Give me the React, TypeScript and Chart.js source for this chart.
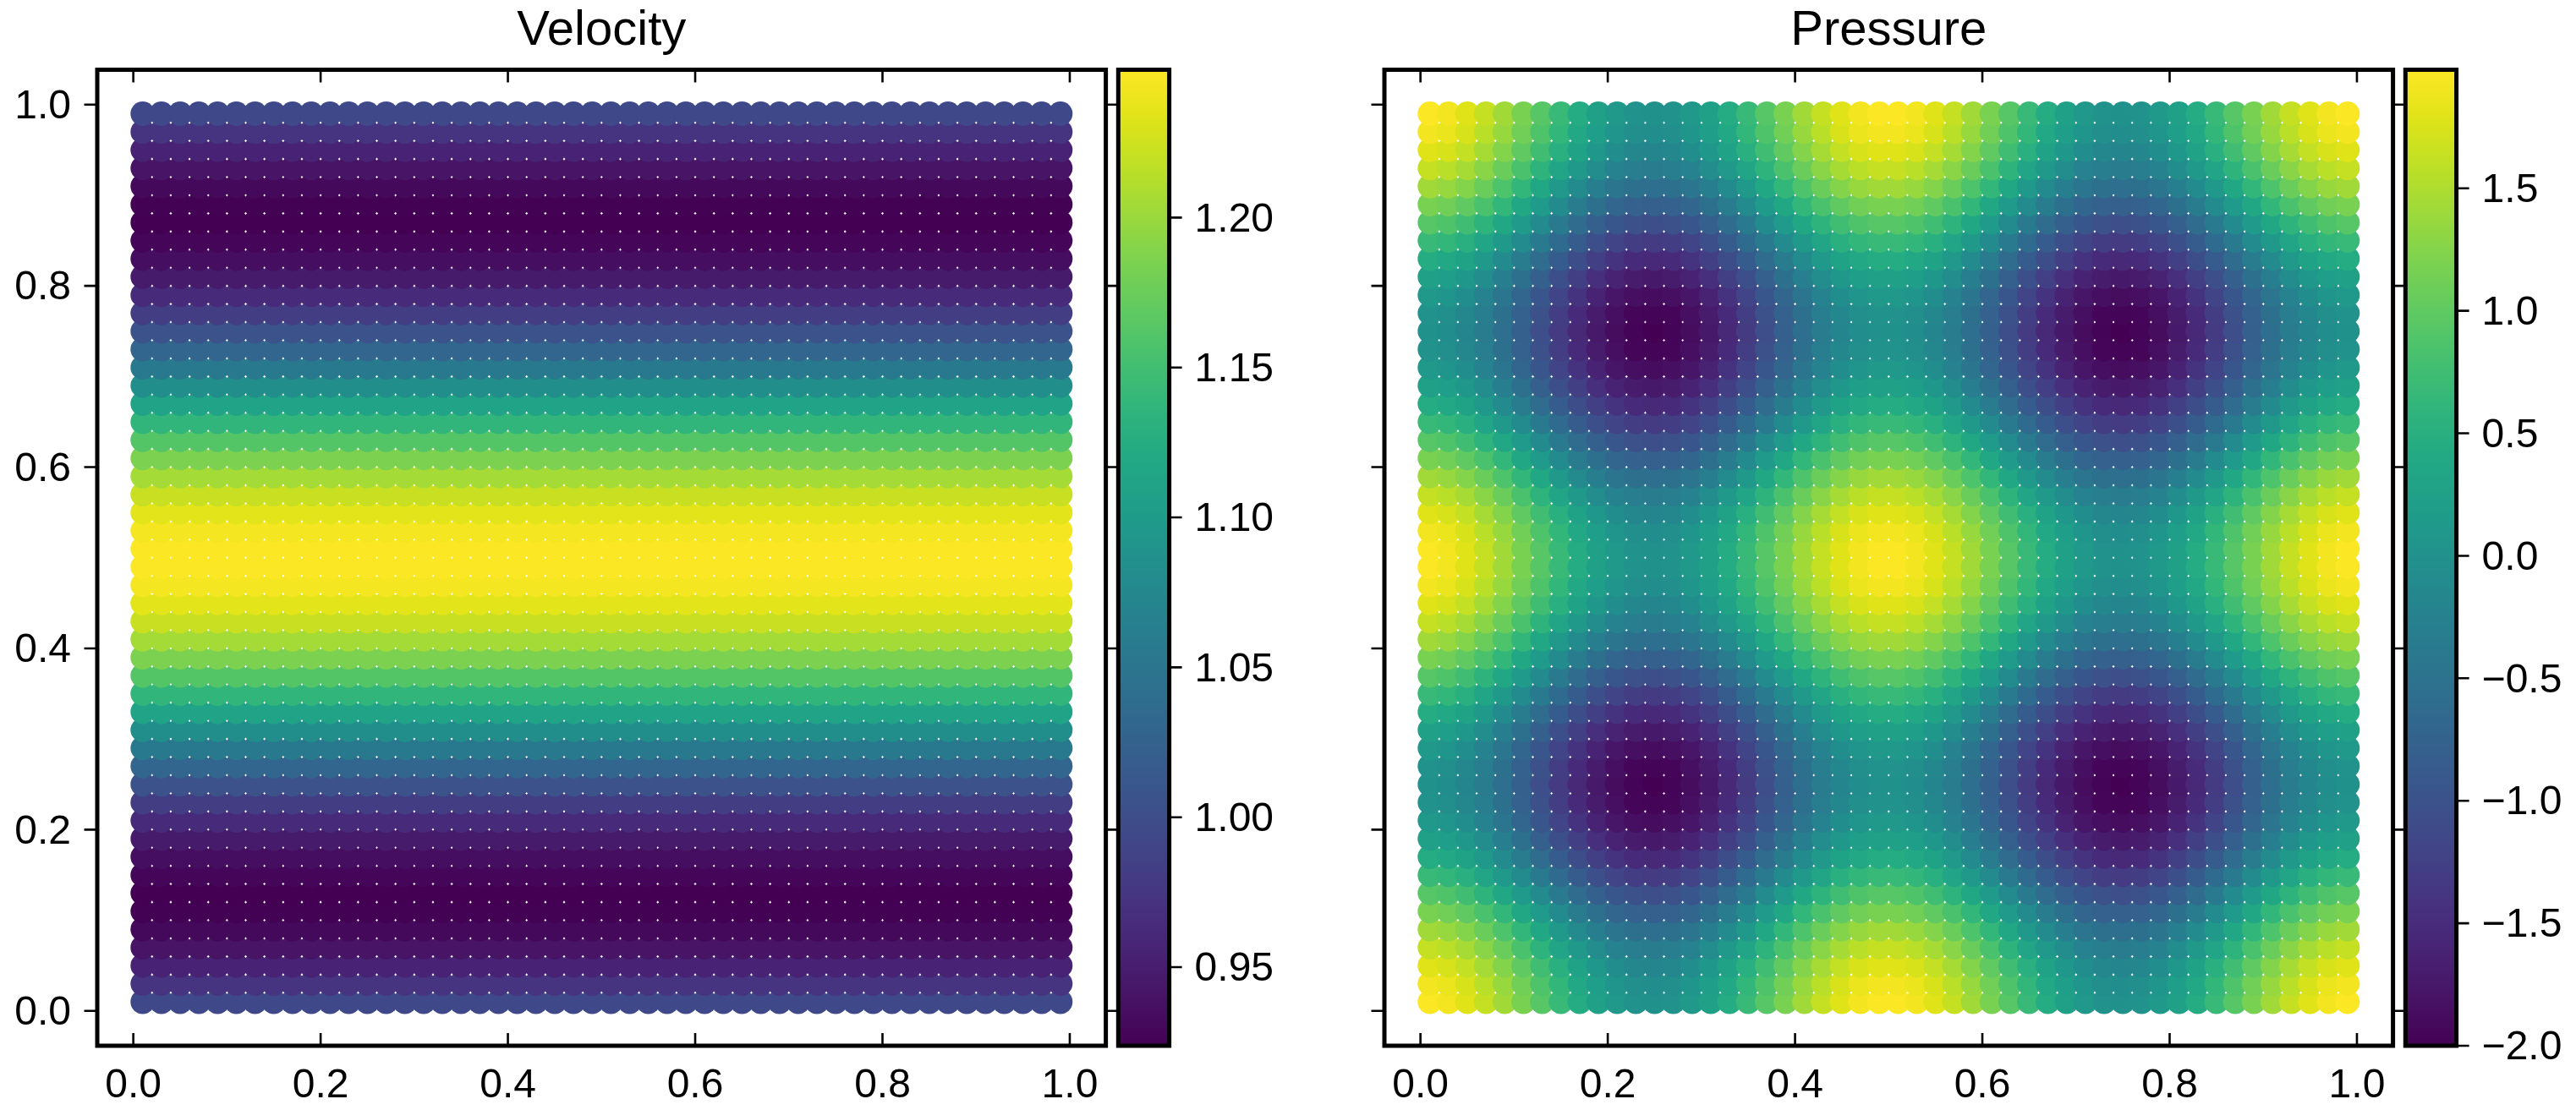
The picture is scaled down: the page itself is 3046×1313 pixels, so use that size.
import { useEffect, useRef } from "react"
import { Chart, registerables } from "chart.js"

Chart.register(...registerables)

const FONT = "'Liberation Sans', Arial, sans-serif"

const gridCoords = [
  0.01, 0.03, 0.05, 0.07, 0.09, 0.11, 0.13, 0.15, 0.17, 0.19, 0.21, 0.23, 0.25, 0.27, 0.29, 0.31, 0.33, 0.35, 0.37, 0.39, 0.41, 0.43, 0.45, 0.47, 0.49,
  0.51, 0.53, 0.55, 0.57, 0.59, 0.61, 0.63, 0.65, 0.67, 0.69, 0.71, 0.73, 0.75, 0.77, 0.79, 0.81, 0.83, 0.85, 0.87, 0.89, 0.91, 0.93, 0.95, 0.97, 0.99,
]
const axisTicks = [0, 0.2, 0.4, 0.6, 0.8, 1]

// velocity only changes with y, one value per row from bottom to top
const velocityByRow = [
  0.9938, 0.9726, 0.9549, 0.9408, 0.9307, 0.9251, 0.9239, 0.9274, 0.9352, 0.9473, 0.9633, 0.9828, 1.0052, 1.0298, 1.056, 1.0831, 1.1103, 1.1368, 1.1619, 1.185, 1.2052, 1.2221, 1.2352, 1.2442, 1.2487,
  1.2487, 1.2442, 1.2352, 1.2221, 1.2052, 1.185, 1.1619, 1.1368, 1.1103, 1.0831, 1.056, 1.0298, 1.0052, 0.9828, 0.9633, 0.9473, 0.9352, 0.9274, 0.9239, 0.9251, 0.9307, 0.9408, 0.9549, 0.9726, 0.9938,
]
const velocityTicks = [0.95, 1.0, 1.05, 1.1, 1.15, 1.2]
const velocityRange = [0.9238, 1.2493]

// pressure rows, read left to right. The picture repeats the same 13 rows, see pressureRowOrder
const pressureA = [1.98, 1.92, 1.8, 1.63, 1.42, 1.18, 0.93, 0.68, 0.45, 0.26, 0.11, 0.02, -0.01, 0.02, 0.11, 0.26, 0.45, 0.68, 0.93, 1.18, 1.42, 1.63, 1.8, 1.92, 1.98, 1.98, 1.92, 1.8, 1.63, 1.42, 1.18, 0.93, 0.68, 0.45, 0.26, 0.11, 0.02, -0.01, 0.02, 0.11, 0.26, 0.45, 0.68, 0.93, 1.18, 1.42, 1.63, 1.8, 1.92, 1.98]
const pressureB = [1.92, 1.86, 1.74, 1.57, 1.36, 1.12, 0.87, 0.62, 0.39, 0.2, 0.05, -0.04, -0.07, -0.04, 0.05, 0.2, 0.39, 0.62, 0.87, 1.12, 1.36, 1.57, 1.74, 1.86, 1.92, 1.92, 1.86, 1.74, 1.57, 1.36, 1.12, 0.87, 0.62, 0.39, 0.2, 0.05, -0.04, -0.07, -0.04, 0.05, 0.2, 0.39, 0.62, 0.87, 1.12, 1.36, 1.57, 1.74, 1.86, 1.92]
const pressureC = [1.8, 1.74, 1.62, 1.45, 1.24, 1.0, 0.75, 0.5, 0.27, 0.08, -0.07, -0.16, -0.19, -0.16, -0.07, 0.08, 0.27, 0.5, 0.75, 1.0, 1.24, 1.45, 1.62, 1.74, 1.8, 1.8, 1.74, 1.62, 1.45, 1.24, 1.0, 0.75, 0.5, 0.27, 0.08, -0.07, -0.16, -0.19, -0.16, -0.07, 0.08, 0.27, 0.5, 0.75, 1.0, 1.24, 1.45, 1.62, 1.74, 1.8]
const pressureD = [1.63, 1.57, 1.45, 1.28, 1.07, 0.83, 0.58, 0.33, 0.1, -0.09, -0.24, -0.33, -0.36, -0.33, -0.24, -0.09, 0.1, 0.33, 0.58, 0.83, 1.07, 1.28, 1.45, 1.57, 1.63, 1.63, 1.57, 1.45, 1.28, 1.07, 0.83, 0.58, 0.33, 0.1, -0.09, -0.24, -0.33, -0.36, -0.33, -0.24, -0.09, 0.1, 0.33, 0.58, 0.83, 1.07, 1.28, 1.45, 1.57, 1.63]
const pressureE = [1.42, 1.36, 1.24, 1.07, 0.86, 0.62, 0.37, 0.12, -0.11, -0.3, -0.45, -0.54, -0.57, -0.54, -0.45, -0.3, -0.11, 0.12, 0.37, 0.62, 0.86, 1.07, 1.24, 1.36, 1.42, 1.42, 1.36, 1.24, 1.07, 0.86, 0.62, 0.37, 0.12, -0.11, -0.3, -0.45, -0.54, -0.57, -0.54, -0.45, -0.3, -0.11, 0.12, 0.37, 0.62, 0.86, 1.07, 1.24, 1.36, 1.42]
const pressureF = [1.18, 1.12, 1.0, 0.83, 0.62, 0.38, 0.13, -0.12, -0.35, -0.54, -0.69, -0.78, -0.81, -0.78, -0.69, -0.54, -0.35, -0.12, 0.13, 0.38, 0.62, 0.83, 1.0, 1.12, 1.18, 1.18, 1.12, 1.0, 0.83, 0.62, 0.38, 0.13, -0.12, -0.35, -0.54, -0.69, -0.78, -0.81, -0.78, -0.69, -0.54, -0.35, -0.12, 0.13, 0.38, 0.62, 0.83, 1.0, 1.12, 1.18]
const pressureG = [0.93, 0.87, 0.75, 0.58, 0.37, 0.13, -0.12, -0.37, -0.6, -0.79, -0.94, -1.03, -1.06, -1.03, -0.94, -0.79, -0.6, -0.37, -0.12, 0.13, 0.37, 0.58, 0.75, 0.87, 0.93, 0.93, 0.87, 0.75, 0.58, 0.37, 0.13, -0.12, -0.37, -0.6, -0.79, -0.94, -1.03, -1.06, -1.03, -0.94, -0.79, -0.6, -0.37, -0.12, 0.13, 0.37, 0.58, 0.75, 0.87, 0.93]
const pressureH = [0.68, 0.62, 0.5, 0.33, 0.12, -0.12, -0.37, -0.62, -0.85, -1.04, -1.19, -1.28, -1.31, -1.28, -1.19, -1.04, -0.85, -0.62, -0.37, -0.12, 0.12, 0.33, 0.5, 0.62, 0.68, 0.68, 0.62, 0.5, 0.33, 0.12, -0.12, -0.37, -0.62, -0.85, -1.04, -1.19, -1.28, -1.31, -1.28, -1.19, -1.04, -0.85, -0.62, -0.37, -0.12, 0.12, 0.33, 0.5, 0.62, 0.68]
const pressureI = [0.45, 0.39, 0.27, 0.1, -0.11, -0.35, -0.6, -0.85, -1.08, -1.27, -1.42, -1.51, -1.54, -1.51, -1.42, -1.27, -1.08, -0.85, -0.6, -0.35, -0.11, 0.1, 0.27, 0.39, 0.45, 0.45, 0.39, 0.27, 0.1, -0.11, -0.35, -0.6, -0.85, -1.08, -1.27, -1.42, -1.51, -1.54, -1.51, -1.42, -1.27, -1.08, -0.85, -0.6, -0.35, -0.11, 0.1, 0.27, 0.39, 0.45]
const pressureJ = [0.26, 0.2, 0.08, -0.09, -0.3, -0.54, -0.79, -1.04, -1.27, -1.46, -1.61, -1.7, -1.73, -1.7, -1.61, -1.46, -1.27, -1.04, -0.79, -0.54, -0.3, -0.09, 0.08, 0.2, 0.26, 0.26, 0.2, 0.08, -0.09, -0.3, -0.54, -0.79, -1.04, -1.27, -1.46, -1.61, -1.7, -1.73, -1.7, -1.61, -1.46, -1.27, -1.04, -0.79, -0.54, -0.3, -0.09, 0.08, 0.2, 0.26]
const pressureK = [0.11, 0.05, -0.07, -0.24, -0.45, -0.69, -0.94, -1.19, -1.42, -1.61, -1.76, -1.85, -1.88, -1.85, -1.76, -1.61, -1.42, -1.19, -0.94, -0.69, -0.45, -0.24, -0.07, 0.05, 0.11, 0.11, 0.05, -0.07, -0.24, -0.45, -0.69, -0.94, -1.19, -1.42, -1.61, -1.76, -1.85, -1.88, -1.85, -1.76, -1.61, -1.42, -1.19, -0.94, -0.69, -0.45, -0.24, -0.07, 0.05, 0.11]
const pressureL = [0.02, -0.04, -0.16, -0.33, -0.54, -0.78, -1.03, -1.28, -1.51, -1.7, -1.85, -1.94, -1.97, -1.94, -1.85, -1.7, -1.51, -1.28, -1.03, -0.78, -0.54, -0.33, -0.16, -0.04, 0.02, 0.02, -0.04, -0.16, -0.33, -0.54, -0.78, -1.03, -1.28, -1.51, -1.7, -1.85, -1.94, -1.97, -1.94, -1.85, -1.7, -1.51, -1.28, -1.03, -0.78, -0.54, -0.33, -0.16, -0.04, 0.02]
const pressureM = [-0.01, -0.07, -0.19, -0.36, -0.57, -0.81, -1.06, -1.31, -1.54, -1.73, -1.88, -1.97, -2.0, -1.97, -1.88, -1.73, -1.54, -1.31, -1.06, -0.81, -0.57, -0.36, -0.19, -0.07, -0.01, -0.01, -0.07, -0.19, -0.36, -0.57, -0.81, -1.06, -1.31, -1.54, -1.73, -1.88, -1.97, -2.0, -1.97, -1.88, -1.73, -1.54, -1.31, -1.06, -0.81, -0.57, -0.36, -0.19, -0.07, -0.01]

// bottom row first
const pressureRowOrder = [
  pressureA, pressureB, pressureC, pressureD, pressureE, pressureF, pressureG, pressureH, pressureI, pressureJ, pressureK, pressureL, pressureM,
  pressureL, pressureK, pressureJ, pressureI, pressureH, pressureG, pressureF, pressureE, pressureD, pressureC, pressureB, pressureA,
  pressureA, pressureB, pressureC, pressureD, pressureE, pressureF, pressureG, pressureH, pressureI, pressureJ, pressureK, pressureL, pressureM,
  pressureL, pressureK, pressureJ, pressureI, pressureH, pressureG, pressureF, pressureE, pressureD, pressureC, pressureB, pressureA,
]
const pressureTicks = [-2, -1.5, -1, -0.5, 0, 0.5, 1, 1.5]
const pressureRange = [-2, 1.984]

const viridisStops = [
  "#440154", "#471365", "#482475", "#463480", "#414487", "#3b528b", "#355f8d", "#2f6c8e", "#2a788e", "#25848e", "#21918c",
  "#1f9e89", "#22a884", "#2fb47c", "#44bf70", "#5ec962", "#7ad151", "#9bd93c", "#bddf26", "#dfe318", "#fde725",
]

function viridis(t: number) {
  const pos = Math.min(Math.max(t, 0), 1) * (viridisStops.length - 1)
  const i = Math.min(Math.floor(pos), viridisStops.length - 2)
  const f = pos - i
  const a = viridisStops[i]
  const b = viridisStops[i + 1]
  const mix = (start: number) => {
    const from = parseInt(a.slice(start, start + 2), 16)
    const to = parseInt(b.slice(start, start + 2), 16)
    return Math.round(from + (to - from) * f)
  }
  return `rgb(${mix(1)},${mix(3)},${mix(5)})`
}

const formatTick = (value: number, digits: number) => value.toFixed(digits).replace("-", "\u2212")

// y labels sit a little under their tick in the original
const nudgeYLabels = {
  id: "nudgeYLabels",
  beforeDraw(chart: any) {
    chart.scales.y.getLabelItems().forEach((item: any) => {
      if (item.nudged) return
      item.options.translation[1] += 3
      item.nudged = true
    })
  },
}

// spines and ticks: matplotlib style, x ticks inward, y ticks outward
const axesFrame = {
  id: "axesFrame",
  afterDraw(chart: any) {
    const { ctx, chartArea: area, scales } = chart
    ctx.save()
    ctx.strokeStyle = "#000"
    ctx.lineWidth = 2.6
    ctx.beginPath()
    scales.x.ticks.forEach((tick: any) => {
      const px = scales.x.getPixelForValue(tick.value)
      ctx.moveTo(px, area.top)
      ctx.lineTo(px, area.top + 15)
      ctx.moveTo(px, area.bottom)
      ctx.lineTo(px, area.bottom - 15)
    })
    scales.y.ticks.forEach((tick: any) => {
      const py = scales.y.getPixelForValue(tick.value)
      ctx.moveTo(area.left, py)
      ctx.lineTo(area.left - 15.5, py)
      ctx.moveTo(area.right, py)
      ctx.lineTo(area.right + 15.5, py)
    })
    ctx.stroke()
    ctx.lineWidth = 5
    ctx.strokeRect(area.left, area.top, area.right - area.left, area.bottom - area.top)
    ctx.restore()
  },
}

const colorBarFrame = {
  id: "colorBarFrame",
  afterDraw(chart: any) {
    const { ctx, chartArea: area, scales } = chart
    const gradient = ctx.createLinearGradient(0, area.bottom, 0, area.top)
    viridisStops.forEach((color, i) => gradient.addColorStop(i / (viridisStops.length - 1), color))
    ctx.save()
    ctx.fillStyle = gradient
    ctx.fillRect(area.left, area.top, area.right - area.left, area.bottom - area.top)
    ctx.strokeStyle = "#000"
    ctx.lineWidth = 2.6
    ctx.beginPath()
    scales.y.ticks.forEach((tick: any) => {
      const py = scales.y.getPixelForValue(tick.value)
      ctx.moveTo(area.right, py)
      ctx.lineTo(area.right + 15, py)
    })
    ctx.stroke()
    ctx.lineWidth = 5
    ctx.strokeRect(area.left, area.top, area.right - area.left, area.bottom - area.top)
    ctx.restore()
  },
}

interface ScatterPanelProps {
  title: string
  rows: number[][]
  range: number[]
  left: number
  axisLeft: number
  yLabels: boolean
}

function ScatterPanel({ title, rows, range, left, axisLeft, yLabels }: ScatterPanelProps) {
  const canvasRef = useRef<HTMLCanvasElement>(null)

  useEffect(() => {
    if (!canvasRef.current) return

    const points: { x: number; y: number }[] = []
    const colors: string[] = []
    rows.forEach((row, j) => {
      row.forEach((value, i) => {
        points.push({ x: gridCoords[i], y: gridCoords[j] })
        colors.push(viridis((value - range[0]) / (range[1] - range[0])))
      })
    })

    const chart = new Chart(canvasRef.current, {
      type: "scatter",
      data: {
        datasets: [
          {
            data: points,
            pointRadius: 14.4,
            pointBorderWidth: 0,
            pointBackgroundColor: colors,
          },
        ],
      },
      options: {
        responsive: false,
        animation: false,
        devicePixelRatio: 1,
        layout: { padding: { left: 0, right: 14, top: 0, bottom: 0 } },
        plugins: {
          legend: { display: false },
          tooltip: { enabled: false },
          title: {
            display: true,
            text: title,
            color: "#000",
            fullSize: false,
            font: { family: FONT, size: 58, weight: "normal", lineHeight: 1 },
            padding: { top: 8, bottom: 16.5 },
          },
        },
        scales: {
          x: {
            type: "linear",
            min: -0.0385,
            max: 1.0385,
            grid: { display: false, drawTicks: false },
            border: { display: false },
            afterBuildTicks: (scale: any) => {
              scale.ticks = axisTicks.map((value) => ({ value }))
            },
            afterFit: (scale: any) => {
              scale.height = 76
            },
            ticks: {
              color: "#000",
              padding: 19,
              autoSkip: false,
              maxRotation: 0,
              font: { family: FONT, size: 48 },
              callback: (value: any) => formatTick(Number(value), 1),
            },
          },
          y: {
            type: "linear",
            min: -0.0385,
            max: 1.0385,
            grid: { display: false, drawTicks: false },
            border: { display: false },
            afterBuildTicks: (scale: any) => {
              scale.ticks = axisTicks.map((value) => ({ value }))
            },
            afterFit: (scale: any) => {
              scale.width = axisLeft
            },
            ticks: {
              display: yLabels,
              color: "#000",
              padding: 31,
              autoSkip: false,
              font: { family: FONT, size: 48 },
              callback: (value: any) => formatTick(Number(value), 1),
            },
          },
        },
      } as any,
      plugins: [nudgeYLabels, axesFrame],
    })

    return () => chart.destroy()
  }, [title, rows, range, axisLeft, yLabels])

  return (
    <canvas
      ref={canvasRef}
      width={axisLeft + 1193 + 14}
      height={1313}
      style={{ position: "absolute", left, top: 0 }}
    />
  )
}

interface ColorBarProps {
  ticks: number[]
  range: number[]
  digits: number
  left: number
}

function ColorBar({ ticks, range, digits, left }: ColorBarProps) {
  const canvasRef = useRef<HTMLCanvasElement>(null)

  useEffect(() => {
    if (!canvasRef.current) return

    const chart = new Chart(canvasRef.current, {
      type: "scatter",
      data: { datasets: [] },
      options: {
        responsive: false,
        animation: false,
        devicePixelRatio: 1,
        layout: { padding: { left: 6.3, right: 0, top: 82.5, bottom: 76 } },
        plugins: { legend: { display: false }, tooltip: { enabled: false } },
        scales: {
          x: { display: false },
          y: {
            type: "linear",
            position: "right",
            min: range[0],
            max: range[1],
            grid: { display: false, drawTicks: false },
            border: { display: false },
            afterBuildTicks: (scale: any) => {
              scale.ticks = ticks.map((value) => ({ value }))
            },
            afterFit: (scale: any) => {
              scale.width = 133.4
            },
            ticks: {
              color: "#000",
              padding: 30,
              autoSkip: false,
              font: { family: FONT, size: 48 },
              callback: (value: any) => formatTick(Number(value), digits),
            },
          },
        },
      } as any,
      plugins: [nudgeYLabels, colorBarFrame],
    })

    return () => chart.destroy()
  }, [ticks, range, digits])

  return <canvas ref={canvasRef} width={200} height={1313} style={{ position: "absolute", left, top: 0 }} />
}

const velocityRows = velocityByRow.map((value) => gridCoords.map(() => value))

export default function App() {
  return (
    <div style={{ position: "absolute", left: 0, top: 0, width: 3046, height: 1313, background: "#fff", overflow: "hidden" }}>
      <ScatterPanel title="Velocity" rows={velocityRows} range={velocityRange} left={0} axisLeft={115} yLabels />
      <ColorBar ticks={velocityTicks} range={velocityRange} digits={2} left={1316} />
      <ScatterPanel title="Pressure" rows={pressureRowOrder} range={pressureRange} left={1520} axisLeft={117} yLabels={false} />
      <ColorBar ticks={pressureTicks} range={pressureRange} digits={1} left={2838} />
    </div>
  )
}
